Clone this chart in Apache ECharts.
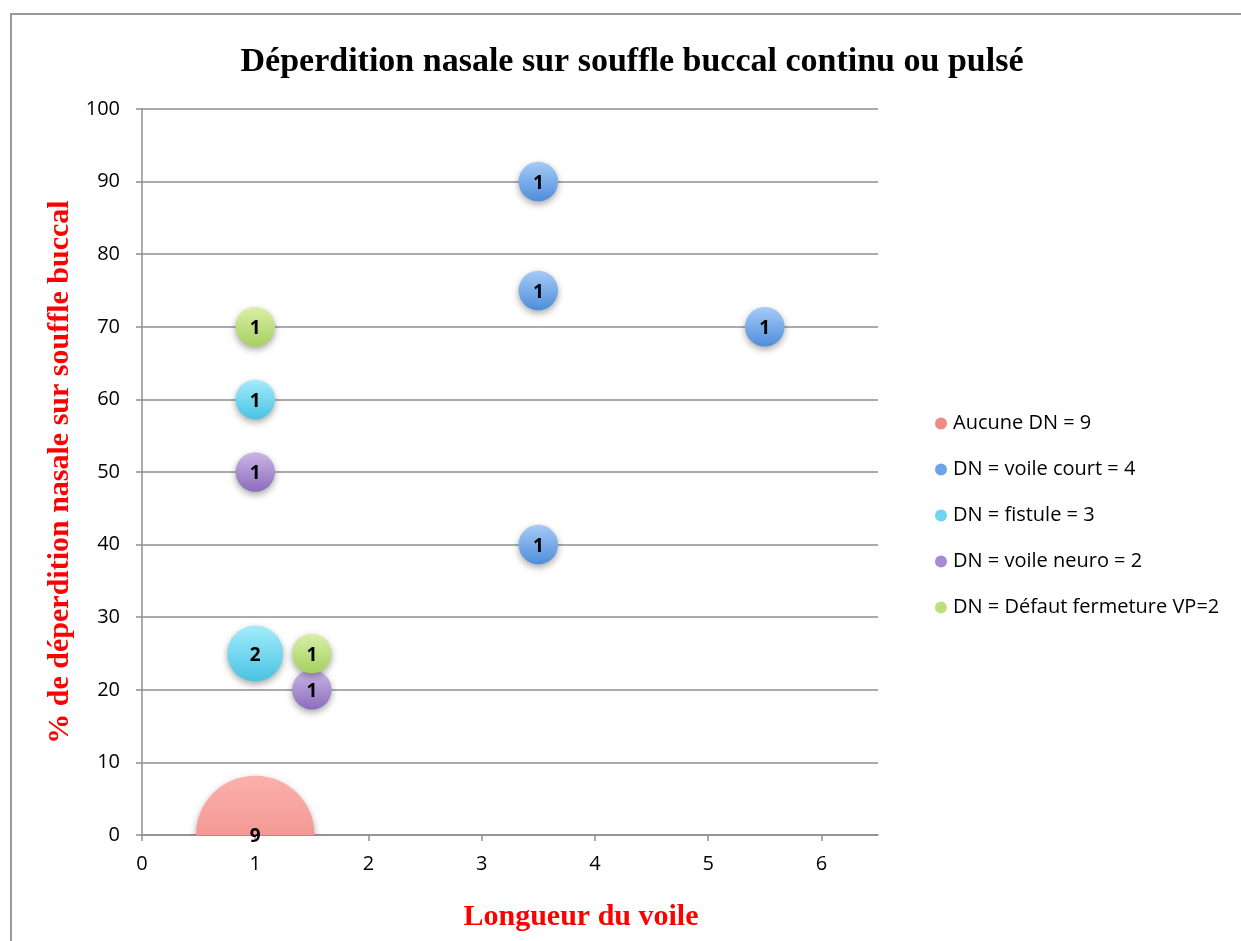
<!DOCTYPE html>
<html><head><meta charset="utf-8">
<script src="https://cdn.jsdelivr.net/npm/echarts@6/dist/echarts.min.js"></script>
<style>html,body{margin:0;padding:0;background:#fff}#c{width:1241px;height:941px}</style>
</head><body><div id="c"></div>
<script>
const titleText = 'Déperdition nasale sur souffle buccal continu ou pulsé';
const xTitle = 'Longueur du voile';
const yTitle = '% de déperdition nasale sur souffle buccal';
const xTicks = [0, 1, 2, 3, 4, 5, 6];
const yTicks = [0, 10, 20, 30, 40, 50, 60, 70, 80, 90, 100];
const seriesNames = ['Aucune DN = 9', 'DN = voile court = 4', 'DN = fistule = 3', 'DN = voile neuro = 2', 'DN = Défaut fermeture VP=2'];
// [x, y, count]
const aucune = [[1, 0, 9]];
const voileCourt = [[3.5, 90, 1], [3.5, 75, 1], [5.5, 70, 1], [3.5, 40, 1]];
const fistule = [[1, 60, 1], [1, 25, 2]];
const voileNeuro = [[1, 50, 1], [1.5, 20, 1]];
const defautVP = [[1, 70, 1], [1.5, 25, 1]];

const colors = [
  ['#fbb0ac', '#ee827c', '#f08a85'],
  ['#a6cbf6', '#4e8ddb', '#6fa3e8'],
  ['#a4ecfa', '#49c3e4', '#6fd5ee'],
  ['#cbb6e6', '#8c6cbc', '#a68bd0'],
  ['#d9efa6', '#a6d062', '#bde07e']
];
const datas = [aucune, voileCourt, fistule, voileNeuro, defautVP];
const unitRadius = 19.75;

const chart = echarts.init(document.getElementById('c'));
const grad = c => new echarts.graphic.LinearGradient(0, 0, 0, 1, [{offset: 0, color: c[0]}, {offset: 1, color: c[1]}]);
const series = [];
datas.forEach((d, i) => {
  series.push({
    name: seriesNames[i],
    type: 'custom',
    data: d,
    clip: true,
    encode: {x: 0, y: 1},
    itemStyle: {color: colors[i][2]},
    renderItem: (params, api) => {
      const p = api.coord([api.value(0), api.value(1)]);
      const r = unitRadius * Math.sqrt(api.value(2));
      return {
        type: 'circle', shape: {cx: p[0], cy: p[1], r: r},
        style: {fill: grad(colors[i]), shadowBlur: 7, shadowColor: 'rgba(0,0,0,0.35)', shadowOffsetY: 3}
      };
    },
    emphasis: {disabled: true}
  });
  series.push({
    name: seriesNames[i],
    type: 'scatter',
    data: d,
    clip: false,
    symbolSize: 1,
    itemStyle: {color: 'rgba(0,0,0,0)'},
    z: 5,
    label: {
      show: true, position: 'inside', formatter: p => p.value[2], offset: [0, 2],
      color: '#000', fontWeight: 'bold', fontSize: 19, fontFamily: 'Open Sans', opacity: 1
    },
    emphasis: {disabled: true}
  });
});

chart.setOption({
  animation: false,
  backgroundColor: '#fff',
  title: {
    text: titleText, left: 627, textAlign: 'center', top: 40,
    textStyle: {fontFamily: 'Liberation Serif', fontWeight: 'bold', fontSize: 34, color: '#000'}
  },
  legend: {
    orient: 'vertical', left: 935, top: 413, itemGap: 25, padding: 0,
    icon: 'circle', itemWidth: 12, itemHeight: 12,
    textStyle: {fontFamily: 'Open Sans', fontSize: 20, lineHeight: 21, color: '#000', padding: [0, 0, 0, 1]},
    data: seriesNames.map((n, i) => ({name: n, itemStyle: {color: colors[i][2], opacity: 1}}))
  },
  grid: {left: 142, top: 109, right: 363, bottom: 106, containLabel: false},
  xAxis: {
    type: 'value', min: 0, max: 6.5, interval: 1,
    name: xTitle, nameLocation: 'middle', nameGap: 67,
    nameTextStyle: {fontFamily: 'Liberation Serif', fontWeight: 'bold', fontSize: 30, color: '#ff0000', padding: [0, 0, 0, 142]},
    axisLine: {show: true, lineStyle: {color: '#8f8f8f', width: 1.5}},
    axisTick: {show: true, length: 6, lineStyle: {color: '#8f8f8f', width: 1.5}, customValues: xTicks},
    axisLabel: {fontFamily: 'Open Sans', fontSize: 20, color: '#000', margin: 19, customValues: xTicks},
    splitLine: {show: false}
  },
  yAxis: {
    type: 'value', min: 0, max: 100, interval: 10,
    name: yTitle, nameLocation: 'middle', nameGap: 62, nameRotate: 90,
    nameTextStyle: {fontFamily: 'Liberation Serif', fontWeight: 'bold', fontSize: 30, color: '#ff0000'},
    axisLine: {show: true, lineStyle: {color: '#8f8f8f', width: 1.5}},
    axisTick: {show: true, length: 6, lineStyle: {color: '#8f8f8f', width: 1.5}, customValues: yTicks},
    axisLabel: {fontFamily: 'Open Sans', fontSize: 20, color: '#000', margin: 22, customValues: yTicks},
    splitLine: {show: true, lineStyle: {color: '#8f8f8f', width: 1.5}}
  },
  graphic: [{
    type: 'rect', shape: {x: 11, y: 14, width: 1300, height: 1000},
    style: {fill: null, stroke: '#9a9a9a', lineWidth: 2}, silent: true, z: 100
  }],
  series: series
});
</script></body></html>
